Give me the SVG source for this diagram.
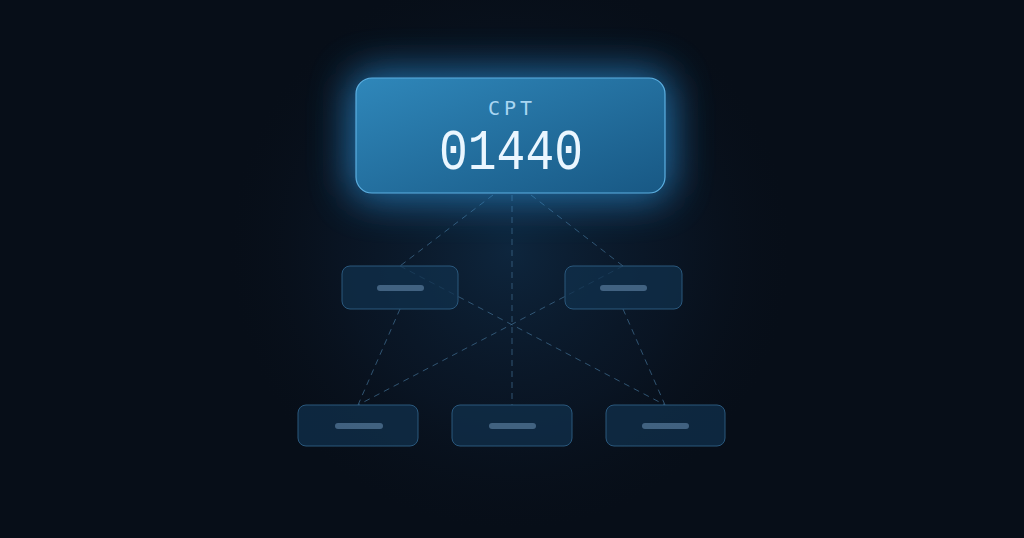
<svg xmlns="http://www.w3.org/2000/svg" width="1024" height="538" viewBox="0 0 1024 538">
<defs>
<radialGradient id="bgGlow" cx="510" cy="250" r="280" gradientUnits="userSpaceOnUse">
<stop offset="0" stop-color="#0f2a44" stop-opacity="0.85"/>
<stop offset="0.6" stop-color="#0c1c30" stop-opacity="0.45"/>
<stop offset="1" stop-color="#0a121e" stop-opacity="0"/>
</radialGradient>
<linearGradient id="mainFill" x1="0" y1="0" x2="1" y2="1">
<stop offset="0" stop-color="#2f87ba"/>
<stop offset="1" stop-color="#185884"/>
</linearGradient>
<filter id="glow" x="-50%" y="-80%" width="200%" height="260%">
<feGaussianBlur stdDeviation="20"/>
</filter>
<style>
.conn{fill:none;stroke:#3d6a8c;stroke-width:1;stroke-dasharray:6 5;opacity:0.75}
.node rect.box{fill:#10304c;fill-opacity:0.75;stroke:#2a587d;stroke-width:1}
.node rect.bar{fill:#4a6c8c;opacity:0.85}
</style>
</defs>
<rect width="1024" height="538" fill="#070e18"/>
<rect width="1024" height="538" fill="url(#bgGlow)"/>
<g id="connectors">
<line class="conn" x1="493" y1="195" x2="400" y2="266"/>
<line class="conn" x1="512" y1="195" x2="512" y2="405"/>
<line class="conn" x1="531" y1="195" x2="623" y2="266"/>
<line class="conn" x1="400" y1="266" x2="665" y2="405"/>
<line class="conn" x1="623" y1="266" x2="358" y2="405"/>
<line class="conn" x1="400" y1="309" x2="358" y2="405"/>
<line class="conn" x1="623" y1="309" x2="665" y2="405"/>
</g>
<g id="main">
<rect x="350" y="72" width="321" height="127" rx="20" fill="#2a8fd6" opacity="0.75" filter="url(#glow)"/>
<rect x="356" y="78" width="309" height="115" rx="16" fill="url(#mainFill)" stroke="#5cb0e2" stroke-width="1.2"/>
<text x="512" y="115" text-anchor="middle" font-family="DejaVu Sans Mono, monospace" font-size="20" letter-spacing="4" fill="#a9d6f2">CPT</text>
<text x="511" y="169" text-anchor="middle" font-family="Liberation Mono, monospace" font-size="48" transform="translate(0,169) scale(1,1.18) translate(0,-169)" fill="#eaf6ff">01440</text>
</g>
<g id="mid-left" class="node">
<rect class="box" x="342" y="266" width="116" height="43" rx="8"/>
<rect class="bar" x="377" y="285" width="47" height="6" rx="3"/>
</g>
<g id="mid-right" class="node">
<rect class="box" x="565" y="266" width="117" height="43" rx="8"/>
<rect class="bar" x="600" y="285" width="47" height="6" rx="3"/>
</g>
<g id="bottom-left" class="node">
<rect class="box" x="298" y="405" width="120" height="41" rx="8"/>
<rect class="bar" x="335" y="423" width="48" height="6" rx="3"/>
</g>
<g id="bottom-center" class="node">
<rect class="box" x="452" y="405" width="120" height="41" rx="8"/>
<rect class="bar" x="489" y="423" width="47" height="6" rx="3"/>
</g>
<g id="bottom-right" class="node">
<rect class="box" x="606" y="405" width="119" height="41" rx="8"/>
<rect class="bar" x="642" y="423" width="47" height="6" rx="3"/>
</g>
</svg>
